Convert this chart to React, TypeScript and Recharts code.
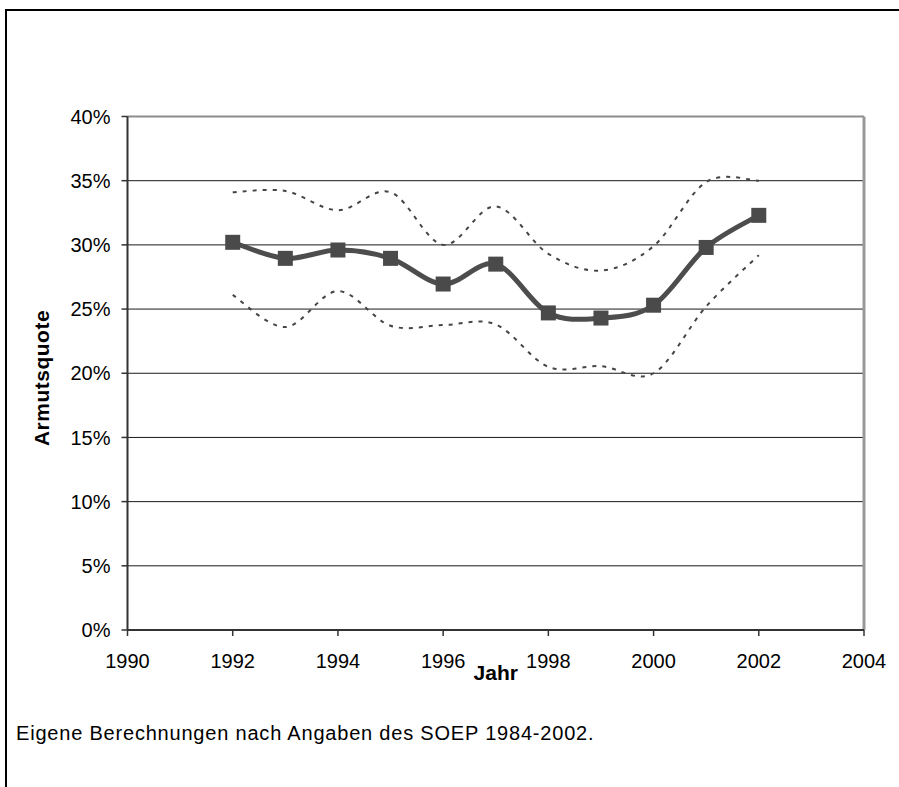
import React from "react";
import {
  LineChart,
  Line,
  XAxis,
  YAxis,
  CartesianGrid,
  ReferenceLine,
} from "recharts";

// Armutsquote (in %), SOEP 1992-2002
const years = [1992, 1993, 1994, 1995, 1996, 1997, 1998, 1999, 2000, 2001, 2002];
const quote = [30.2, 28.95, 29.6, 28.95, 26.95, 28.5, 24.7, 24.3, 25.3, 29.8, 32.3];
const upperBound = [34.1, 34.2, 32.7, 34.1, 30.0, 33.0, 29.3, 28.0, 29.9, 34.9, 35.0];
const lowerBound = [26.1, 23.6, 26.4, 23.7, 23.75, 23.8, 20.5, 20.55, 20.0, 25.2, 29.2];

const xTicks = [1990, 1992, 1994, 1996, 1998, 2000, 2002, 2004];
const yTicks = [0, 5, 10, 15, 20, 25, 30, 35, 40];

const data = years.map((year, i) => ({
  year,
  quote: quote[i],
  upper: upperBound[i],
  lower: lowerBound[i],
}));

const FONT = "'Liberation Sans', Arial, sans-serif";

// Excel-style smoothed line (Catmull-Rom as cubic bezier)
function smoothCurve(context: any) {
  let pts: number[][] = [];
  return {
    areaStart() {},
    areaEnd() {},
    lineStart() {
      pts = [];
    },
    point(x: number, y: number) {
      pts.push([+x, +y]);
    },
    lineEnd() {
      const n = pts.length;
      if (!n) return;
      context.moveTo(pts[0][0], pts[0][1]);
      for (let i = 0; i < n - 1; i++) {
        const p0 = pts[Math.max(i - 1, 0)];
        const p1 = pts[i];
        const p2 = pts[i + 1];
        const p3 = pts[Math.min(i + 2, n - 1)];
        context.bezierCurveTo(
          p1[0] + (p2[0] - p0[0]) / 6,
          p1[1] + (p2[1] - p0[1]) / 6,
          p2[0] - (p3[0] - p1[0]) / 6,
          p2[1] - (p3[1] - p1[1]) / 6,
          p2[0],
          p2[1]
        );
      }
    },
  };
}

const SquareDot = (props: any) => {
  const { cx, cy, index } = props;
  if (cx == null || cy == null) return <g key={`sq-${index}`} />;
  return (
    <rect
      key={`sq-${index}`}
      x={cx - 7.5}
      y={cy - 7.5}
      width={15}
      height={15}
      fill="#4a4a4a"
    />
  );
};

export default function App() {
  return (
    <div
      style={{
        position: "absolute",
        left: 0,
        top: 0,
        width: 899,
        height: 787,
        overflow: "hidden",
        background: "#fff",
        fontFamily: FONT,
      }}
    >
      {/* frame: only left and top edges are visible in the crop */}
      <div
        style={{
          position: "absolute",
          left: 5,
          top: 9,
          width: 880,
          height: 760,
          borderLeft: "2px solid #000",
          borderTop: "2px solid #000",
        }}
      />
      <div
        style={{
          position: "absolute",
          left: 880,
          top: 9,
          width: 19,
          height: 2,
          background: "#000",
        }}
      />
      <div
        style={{
          position: "absolute",
          left: 5,
          top: 760,
          width: 2,
          height: 27,
          background: "#000",
        }}
      />
      <div style={{ position: "absolute", left: 0, top: 0 }}>
        <LineChart
          width={899}
          height={787}
          data={data}
          margin={{ top: 116.5, right: 35, left: 0, bottom: 127 }}
        >
          <CartesianGrid vertical={false} stroke="#1a1a1a" strokeWidth={1} />
          <XAxis
            dataKey="year"
            type="number"
            domain={[1990, 2004]}
            ticks={xTicks}
            height={30}
            tickSize={6}
            tickMargin={18}
            axisLine={{ stroke: "#333", strokeWidth: 2 }}
            tickLine={{ stroke: "#333", strokeWidth: 1.5 }}
            tick={{ fill: "#000", fontSize: 20, fontFamily: FONT }}
            label={{
              value: "Jahr",
              position: "bottom",
              offset: 5.5,
              fill: "#000",
              fontSize: 21,
              fontWeight: "bold",
              fontFamily: FONT,
            }}
          />
          <YAxis
            type="number"
            domain={[0, 40]}
            ticks={yTicks}
            width={127.5}
            tickSize={6}
            tickMargin={11}
            tickFormatter={(v: number) => `${v}%`}
            axisLine={{ stroke: "#333", strokeWidth: 2 }}
            tickLine={{ stroke: "#333", strokeWidth: 1.5 }}
            tick={{ fill: "#000", fontSize: 20, fontFamily: FONT }}
          />
          <ReferenceLine y={40} stroke="#8c8c8c" strokeWidth={2} />
          <ReferenceLine x={2004} stroke="#999" strokeWidth={3} />
          <Line
            dataKey="upper"
            type={smoothCurve as any}
            stroke="#454545"
            strokeWidth={2}
            strokeDasharray="4 6"
            dot={false}
            isAnimationActive={false}
          />
          <Line
            dataKey="lower"
            type={smoothCurve as any}
            stroke="#454545"
            strokeWidth={2}
            strokeDasharray="4 6"
            dot={false}
            isAnimationActive={false}
          />
          <Line
            dataKey="quote"
            type={smoothCurve as any}
            stroke="#4d4d4d"
            strokeWidth={5}
            dot={SquareDot}
            activeDot={false}
            isAnimationActive={false}
          />
        </LineChart>
      </div>
      <div
        style={{
          position: "absolute",
          left: 41.7,
          top: 378,
          transform: "translate(-50%, -50%) rotate(-90deg)",
          fontSize: 21,
          fontWeight: "bold",
          letterSpacing: 0.5,
          whiteSpace: "nowrap",
          color: "#000",
        }}
      >
        Armutsquote
      </div>
      <div
        style={{
          position: "absolute",
          left: 16,
          top: 722,
          fontSize: 20,
          letterSpacing: 0.8,
          whiteSpace: "nowrap",
          color: "#000",
        }}
      >
        Eigene Berechnungen nach Angaben des SOEP 1984-2002.
      </div>
    </div>
  );
}
